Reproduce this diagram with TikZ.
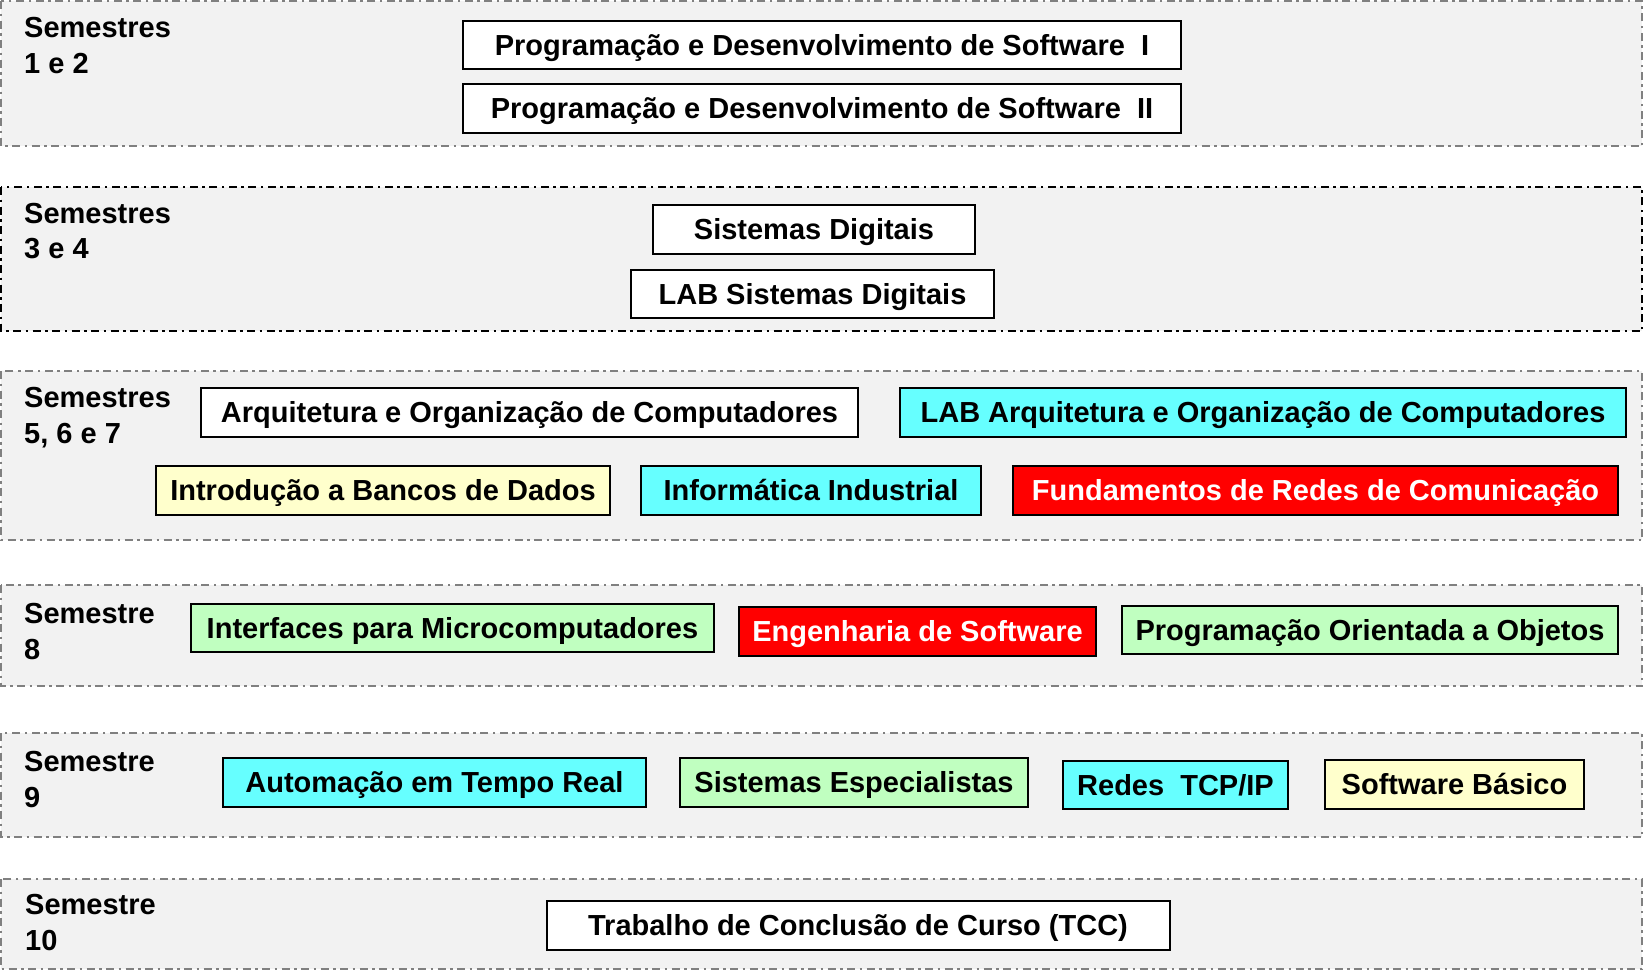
\documentclass[tikz,border=0pt]{standalone}
\usepackage{fontspec}
\setmainfont{Liberation Sans}
\definecolor{bandbg}{RGB}{242,242,242}
\definecolor{bandline}{RGB}{128,128,128}
\definecolor{ccyan}{RGB}{102,255,255}
\definecolor{cyellow}{RGB}{255,255,204}
\definecolor{cgreen}{RGB}{192,255,192}
\definecolor{cred}{RGB}{255,0,0}
\tikzset{
  band/.style={fill=bandbg, draw=bandline, line width=1.6pt,
    dash pattern=on 8pt off 4.5pt on 2.5pt off 4.5pt},
  course/.style={draw=black, line width=2pt, inner sep=0pt, anchor=center,
    text height=26pt, text depth=5.2pt,
    font=\bfseries\fontsize{29}{34}\selectfont},
  sem/.style={inner sep=0pt, anchor=base west, align=left,
    font=\bfseries\fontsize{29}{35.5}\selectfont},
  wbox/.style={course, fill=white},
  cbox/.style={course, fill=ccyan},
  ybox/.style={course, fill=cyellow},
  gbox/.style={course, fill=cgreen},
  rbox/.style={course, fill=cred, text=white},
}
\begin{document}
\begin{tikzpicture}[x=1pt,y=-1pt]
\useasboundingbox (0,0) rectangle (1644,975);
\fill[white] (0,0) rectangle (1644,975);
% bands
\path[band] (1,1) rectangle (1642,146);
\path[band, draw=black] (1,187) rectangle (1642,331);
\path[band] (1,371) rectangle (1642,540);
\path[band] (1,585) rectangle (1642,686);
\path[band] (1,733) rectangle (1642,837);
\path[band] (1,879) rectangle (1642,969);
% semester labels (anchored at the baseline of the last line)
\node[sem] (s12) at (24,73) {Semestres\\1 e 2};
\node[sem] (s34) at (24,258.5) {Semestres\\3 e 4};
\node[sem] (s567) at (24,443) {Semestres\\5, 6 e 7};
\node[sem] (s8) at (24,659) {Semestre\\8};
\node[sem] (s9) at (24,807) {Semestre\\9};
\node[sem] (s10) at (25,950) {Semestre\\10};
% courses
\node[wbox, minimum width=718, minimum height=48] (pds1) at (822,45) {Programação e Desenvolvimento de Software\ \ I};
\node[wbox, minimum width=718, minimum height=49] (pds2) at (822,108.5) {Programação e Desenvolvimento de Software\ \ II};
\node[wbox, minimum width=322, minimum height=49] (sd) at (814,229.5) {Sistemas Digitais};
\node[wbox, minimum width=363, minimum height=48] (labsd) at (812.5,294) {LAB Sistemas Digitais};
\node[wbox, minimum width=657, minimum height=49] (aoc) at (529.5,412.5) {Arquitetura e Organização de Computadores};
\node[cbox, minimum width=726, minimum height=49] (labaoc) at (1263,412.5) {LAB Arquitetura e Organização de Computadores};
\node[ybox, minimum width=454, minimum height=49] (ibd) at (383,490.5) {Introdução a Bancos de Dados};
\node[cbox, minimum width=340, minimum height=49] (ii) at (811,490.5) {Informática Industrial};
\node[rbox, minimum width=605, minimum height=49] (frc) at (1315.5,490.5) {Fundamentos de Redes de Comunicação};
\node[gbox, minimum width=523, minimum height=48] (im) at (452.5,628) {Interfaces para Microcomputadores};
\node[rbox, minimum width=357, minimum height=49] (es) at (917.5,631.5) {Engenharia de Software};
\node[gbox, minimum width=496, minimum height=48] (poo) at (1370,630) {Programação Orientada a Objetos};
\node[cbox, minimum width=423, minimum height=49] (atr) at (434.5,782.5) {Automação em Tempo Real};
\node[gbox, minimum width=348, minimum height=49] (se) at (854,782.5) {Sistemas Especialistas};
\node[cbox, minimum width=225, minimum height=48] (tcp) at (1175.5,785) {Redes\ \ TCP/IP};
\node[ybox, minimum width=259, minimum height=49] (sb) at (1454.5,784.5) {Software Básico};
\node[wbox, minimum width=623, minimum height=49] (tcc) at (858,925.5) {Trabalho de Conclusão de Curso (TCC)};
\end{tikzpicture}
\end{document}
